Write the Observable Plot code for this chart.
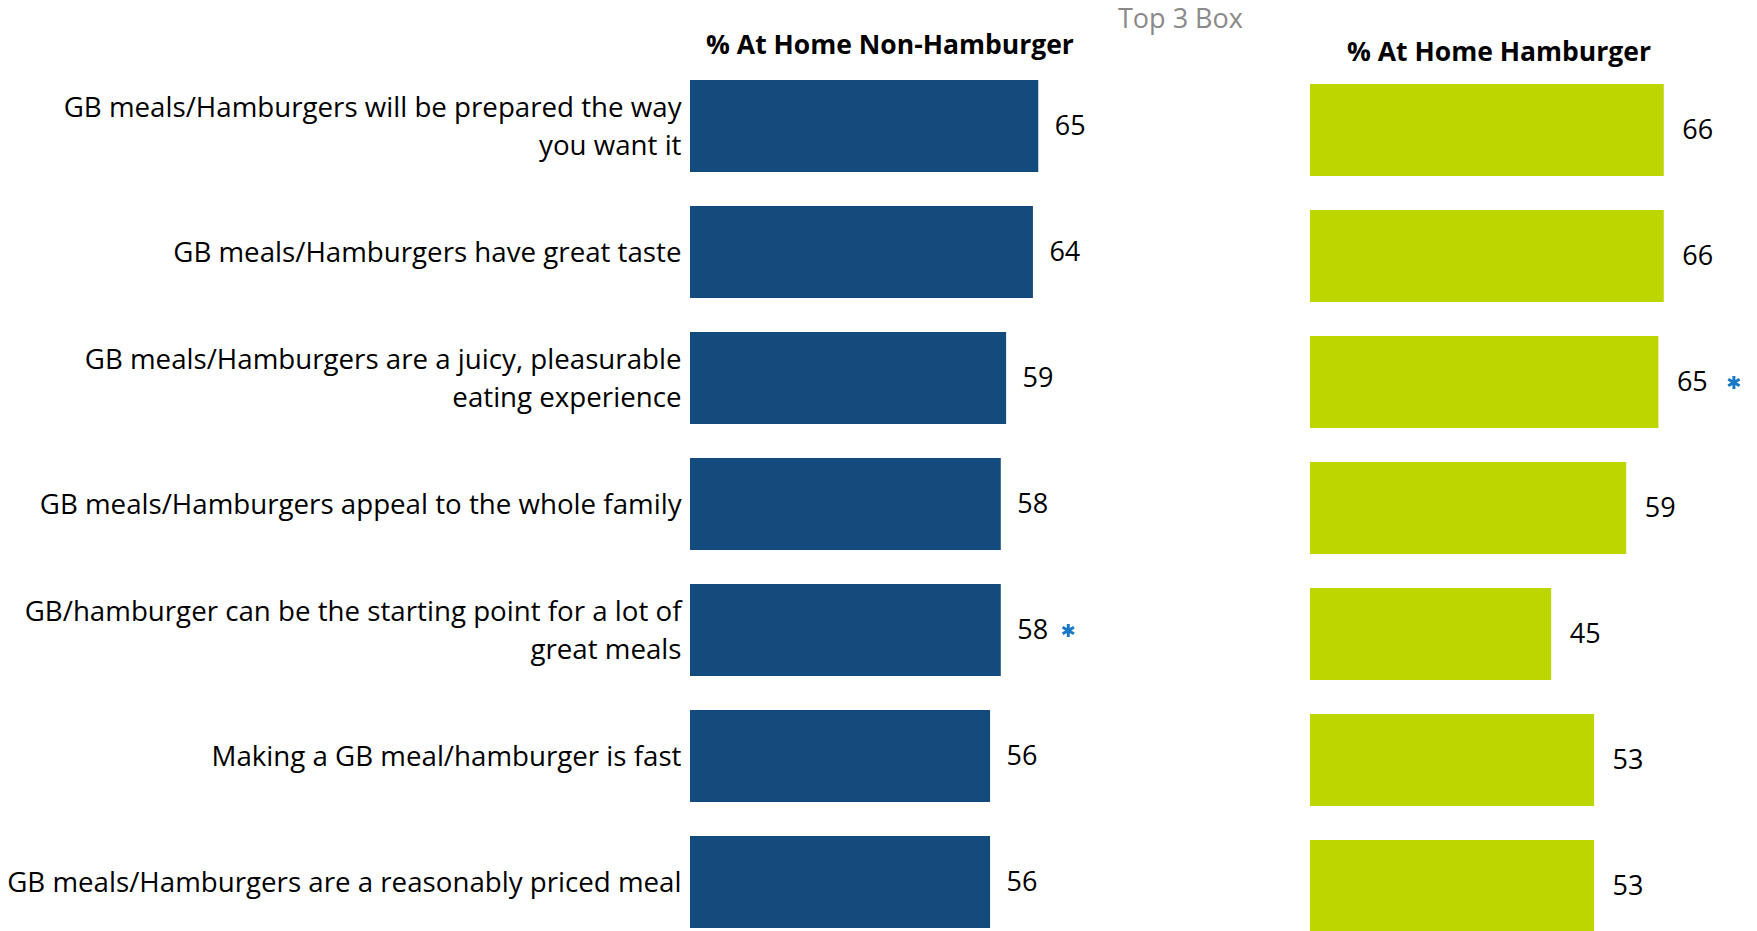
<!DOCTYPE html>
<html>
<head>
<meta charset="utf-8">
<script src="https://cdn.jsdelivr.net/npm/d3@7"></script>
<script src="https://cdn.jsdelivr.net/npm/@observablehq/plot@0.6"></script>
<style>
  html, body { margin: 0; padding: 0; background: #fff; }
  #chart { position: relative; width: 1757px; height: 931px; overflow: hidden; background: #fff; font-family: "Open Sans", sans-serif; }
  .ttl { position: absolute; white-space: nowrap; line-height: 1; font-family: "Open Sans", sans-serif; }
</style>
</head>
<body>
<div id="chart"></div>
<script>
// ---- data ----
const categories = [
  "GB meals/Hamburgers will be prepared the way\nyou want it",
  "GB meals/Hamburgers have great taste",
  "GB meals/Hamburgers are a juicy, pleasurable\neating experience",
  "GB meals/Hamburgers appeal to the whole family",
  "GB/hamburger can be the starting point for a lot of\ngreat meals",
  "Making a GB meal/hamburger is fast",
  "GB meals/Hamburgers are a reasonably priced meal"
];
const nonBurger = [65, 64, 59, 58, 58, 56, 56];
const burger = [66, 66, 65, 59, 45, 53, 53];
const nonBurgerSig = [false, false, false, false, true, false, false];
const burgerSig = [false, false, true, false, false, false, false];
const panelTitles = ["% At Home Non-Hamburger", "% At Home Hamburger"];
const noteText = "Top 3 Box";

const leftData = categories.map((c, i) => ({cat: c, value: nonBurger[i], sig: nonBurgerSig[i]}));
const rightData = categories.map((c, i) => ({cat: c, value: burger[i], sig: burgerSig[i]}));

const FONT = "'Open Sans', sans-serif";
const chart = document.getElementById("chart");

// ---- left panel ----
const left = Plot.plot({
  width: 1150, height: 931,
  marginLeft: 690, marginRight: 0, marginTop: 0, marginBottom: 0,
  style: {background: "transparent", fontFamily: FONT, overflow: "visible"},
  x: {domain: [0, 100], range: [690, 690 + 535.8], axis: null},
  y: {domain: categories, range: [77.7, 930], paddingInner: 0.271, paddingOuter: 0, axis: null},
  marks: [
    Plot.barX(leftData, {x: "value", y: "cat", fill: "#134B7C"}),
    Plot.text(leftData, {x: "value", y: "cat", text: d => String(d.value), textAnchor: "start", dx: 16, fontSize: 27, fill: "#000"}),
    Plot.text(leftData, {y: "cat", text: "cat", frameAnchor: "left", textAnchor: "end", dx: -9, dy: -3, fontSize: 27.7, lineHeight: 1.375, fill: "#000"}),
    Plot.dot(leftData.filter(d => d.sig), {x: "value", y: "cat", symbol: "asterisk", r: 6.2, stroke: "#1878C8", strokeWidth: 3, dx: 67})
  ]
});
left.style.left = "0px";
left.style.top = "0px";
left.style.position = "absolute";
chart.appendChild(left);

// ---- right panel ----
const right = Plot.plot({
  width: 607, height: 931,
  marginLeft: 160, marginRight: 0, marginTop: 0, marginBottom: 0,
  style: {background: "transparent", fontFamily: FONT, overflow: "visible"},
  x: {domain: [0, 100], range: [160, 160 + 536], axis: null},
  y: {domain: categories, range: [82, 933.6], paddingInner: 0.273, paddingOuter: 0, axis: null},
  marks: [
    Plot.barX(rightData, {x: "value", y: "cat", fill: "#BED600"}),
    Plot.text(rightData, {x: "value", y: "cat", text: d => String(d.value), textAnchor: "start", dx: 18, fontSize: 27, fill: "#000"}),
    Plot.dot(rightData.filter(d => d.sig), {x: "value", y: "cat", symbol: "asterisk", r: 6.2, stroke: "#1878C8", strokeWidth: 3, dx: 75})
  ]
});
right.style.left = "1150px";
right.style.top = "0px";
right.style.position = "absolute";
chart.appendChild(right);

// ---- titles ----
function addTitle(text, cx, baseline, size, weight, color, anchor) {
  const d = document.createElement("div");
  d.className = "ttl";
  d.textContent = text;
  d.style.fontSize = size + "px";
  d.style.fontWeight = weight;
  d.style.color = color;
  d.style.top = (baseline - size * 0.888) + "px";
  d.style.left = cx + "px";
  if (anchor === "middle") d.style.transform = "translateX(-50%)";
  chart.appendChild(d);
}
addTitle(panelTitles[0], 890, 55, 26.5, 700, "#000", "middle");
addTitle(panelTitles[1], 1499, 61.5, 26.5, 700, "#000", "middle");
addTitle(noteText, 1118, 28.3, 27, 400, "#8a8a8a", "start");
</script>
</body>
</html>
